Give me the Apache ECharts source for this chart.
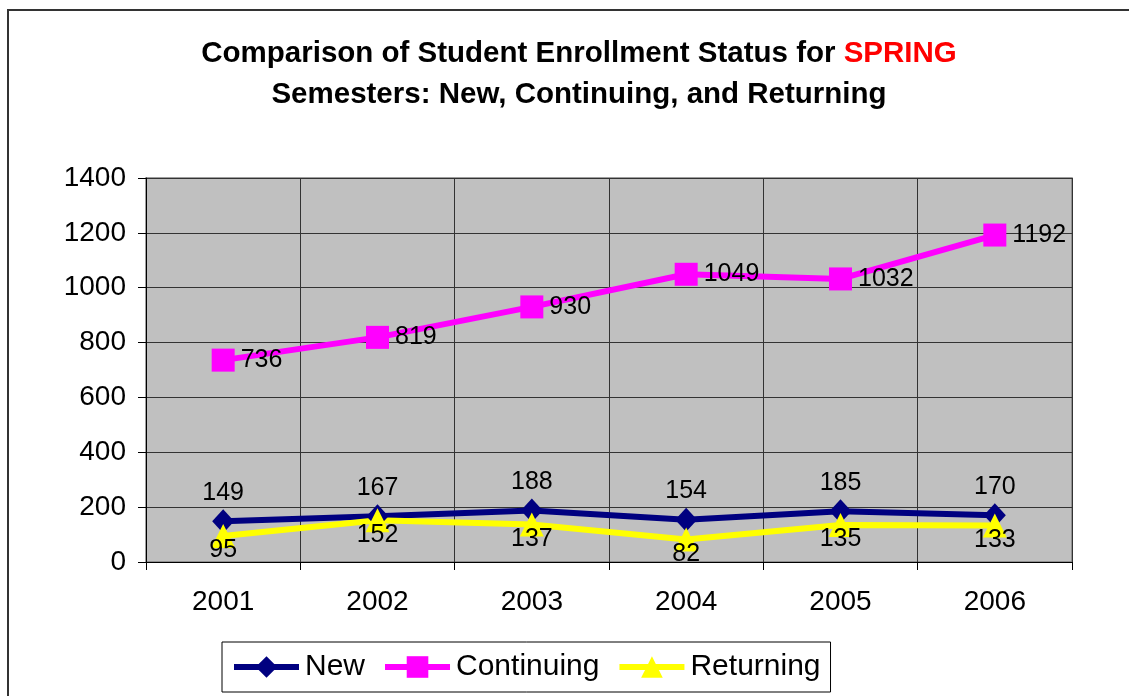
<!DOCTYPE html>
<html>
<head>
<meta charset="utf-8">
<script src="https://cdn.jsdelivr.net/npm/echarts@6/dist/echarts.min.js"></script>
<style>
  html, body { margin: 0; padding: 0; background: #fff; }
  #chart { width: 1129px; height: 696px; }
</style>
</head>
<body>
<div id="chart"></div>
<script>
// 学期年份
const years = ['2001', '2002', '2003', '2004', '2005', '2006']
// 各类学生人数
const newStudents = [149, 167, 188, 154, 185, 170]
const continuing = [736, 819, 930, 1049, 1032, 1192]
const returning = [95, 152, 137, 82, 135, 133]
const yTicks = { min: 0, max: 1400, interval: 200 }

const font = 'Liberation Sans, Arial, sans-serif'
const chart = echarts.init(document.getElementById('chart'))

const option = {
  animation: false,
  textStyle: { fontFamily: font },
  graphic: [
    {
      type: 'rect',
      shape: { x: 8, y: 10, width: 1200, height: 800 },
      style: { fill: 'none', stroke: '#333', lineWidth: 2 },
      silent: true
    }
  ],
  title: {
    left: 574,
    top: 28,
    textAlign: 'center',
    text: '{a|Comparison of Student Enrollment Status for }{r|SPRING}\n{a|Semesters: New, Continuing, and Returning}',
    textStyle: {
      rich: {
        a: { fontFamily: font, fontSize: 29.5, fontWeight: 'bold', color: '#000', lineHeight: 41 },
        r: { fontFamily: font, fontSize: 29.5, fontWeight: 'bold', color: '#ff0000', lineHeight: 41 }
      }
    }
  },
  legend: {
    left: 222,
    top: 642,
    padding: [10, 10, 10, 9],
    borderColor: '#000',
    borderWidth: 1,
    itemWidth: 65,
    itemHeight: 27,
    itemGap: 17,
    lineStyle: { width: 6 },
    textStyle: { fontFamily: font, fontSize: 30, color: '#000', padding: [0, 0, 0, 1] },
    data: ['New', 'Continuing', 'Returning']
  },
  grid: {
    left: 146,
    right: 57,
    top: 178,
    bottom: 134,
    show: true,
    backgroundColor: '#c0c0c0',
    borderColor: '#808080',
    borderWidth: 1.5
  },
  xAxis: {
    type: 'category',
    data: years,
    boundaryGap: true,
    axisLine: { lineStyle: { color: '#000', width: 1 } },
    axisTick: { show: true, length: 8, lineStyle: { color: '#000' } },
    axisLabel: { fontSize: 28, color: '#000', margin: 26 },
    splitLine: { show: true, lineStyle: { color: '#333', width: 1 } }
  },
  yAxis: {
    type: 'value',
    min: yTicks.min,
    max: yTicks.max,
    interval: yTicks.interval,
    axisLine: { show: true, lineStyle: { color: '#000', width: 1 } },
    axisTick: { show: true, length: 8, lineStyle: { color: '#000' } },
    axisLabel: { fontSize: 28, color: '#000', margin: 20, formatter: v => String(v) },
    splitLine: { show: true, lineStyle: { color: '#333', width: 1 } }
  },
  series: [
    {
      name: 'New',
      type: 'line',
      data: newStudents,
      color: '#000080',
      symbol: 'diamond',
      symbolSize: [22, 24],
      lineStyle: { width: 6, color: '#000080' },
      label: { show: true, position: 'top', distance: 4, fontSize: 25, color: '#000' }
    },
    {
      name: 'Continuing',
      type: 'line',
      data: continuing,
      color: '#ff00ff',
      symbol: 'rect',
      symbolSize: 23,
      lineStyle: { width: 6, color: '#ff00ff' },
      label: { show: true, position: 'right', distance: 6, fontSize: 25, color: '#000' }
    },
    {
      name: 'Returning',
      type: 'line',
      data: returning,
      color: '#ffff00',
      symbol: 'triangle',
      symbolSize: 24,
      lineStyle: { width: 6, color: '#ffff00' },
      label: { show: true, position: 'bottom', distance: -10, fontSize: 25, color: '#000' }
    }
  ]
}

chart.setOption(option)
</script>
</body>
</html>
